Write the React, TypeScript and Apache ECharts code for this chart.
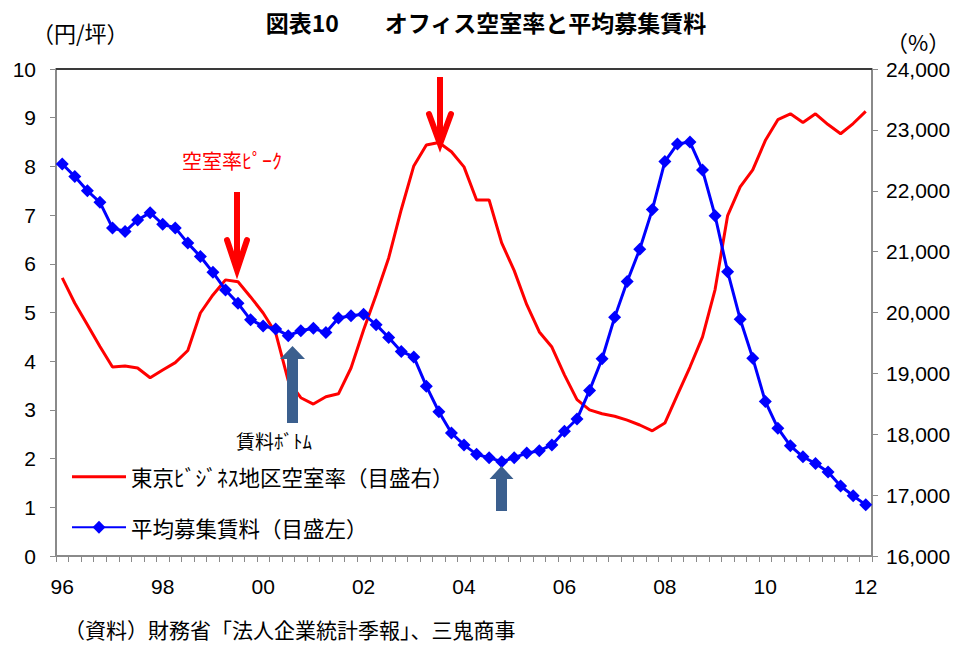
import React, { useEffect, useRef } from "react";
import * as echarts from "echarts";

// ---- data ----
const years = ["96", "97", "98", "99", "00", "01", "02", "03", "04", "05", "06", "07", "08", "09", "10", "11", "12"];
const quarterNames = ["Q1", "Q2", "Q3", "Q4"];
// quarterly categories, 1996Q1 .. 2012Q1
const categories: string[] = years.flatMap((y, i) =>
  i === years.length - 1 ? [`${y}${quarterNames[0]}`] : quarterNames.map((q) => `${y}${q}`)
);

// 東京ビジネス地区空室率 (%), quarterly
const vacancyRate = [
  5.71, 5.19, 4.75, 4.30, 3.88, 3.90, 3.86, 3.66, 3.82, 3.97,
  4.22, 4.99, 5.36, 5.67, 5.63, 5.32, 4.99, 4.58, 3.60, 3.25,
  3.12, 3.27, 3.33, 3.86, 4.64, 5.36, 6.12, 7.11, 8.01, 8.44,
  8.49, 8.30, 7.99, 7.31, 7.31, 6.43, 5.86, 5.16, 4.60, 4.29,
  3.72, 3.21, 3.00, 2.92, 2.87, 2.79, 2.69, 2.57, 2.73, 3.31,
  3.88, 4.50, 5.47, 6.99, 7.58, 7.93, 8.53, 8.96, 9.08, 8.90,
  9.08, 8.86, 8.67, 8.88, 9.13,
];

// 平均募集賃料 (円/坪), quarterly
const avgRent = [
  22440, 22235, 22000, 21810, 21390, 21330, 21520, 21640, 21450, 21390,
  21140, 20920, 20660, 20370, 20150, 19880, 19780, 19730, 19620, 19700,
  19740, 19670, 19910, 19945, 19970, 19800, 19590, 19360, 19270, 18790,
  18370, 18020, 17825, 17670, 17615, 17550, 17615, 17690, 17730, 17825,
  18050, 18250, 18720, 19240, 19920, 20510, 21040, 21690, 22480, 22770,
  22800, 22340, 21590, 20670, 19890, 19250, 18540, 18100, 17810, 17630,
  17520, 17380, 17150, 16990, 16840,
];

const seriesNames = ["東京ﾋﾞｼﾞﾈｽ地区空室率（目盛右）", "平均募集賃料（目盛左）"];
const titleText = "図表10　　オフィス空室率と平均募集賃料";
const leftUnit = "（円/坪）";
const rightUnit = "（%）";
const sourceText = "（資料）財務省「法人企業統計季報」、三鬼商事";
const peakLabel = "空室率ﾋﾟｰｸ";
const bottomLabel = "賃料ﾎﾞﾄﾑ";

const CJK = '"Noto Sans CJK JP", "Noto Sans", sans-serif';
const NUM = '"Liberation Sans Narrow", "Liberation Sans", Arial, sans-serif';
const AXIS_GRAY = "#8a8a8a";
const ARROW_BLUE = "#3b5f8e";

export default function App() {
  const ref = useRef<HTMLDivElement>(null);

  useEffect(() => {
    if (!ref.current) return;
    const chart = echarts.init(ref.current, undefined, { renderer: "svg" });

    const gridLeft = 56;
    const gridTop = 69;
    const gridW = 816;
    const gridH = 487;

    const option: any = {
      animation: false,
      backgroundColor: "#ffffff",
      textStyle: { fontFamily: CJK },
      grid: { left: gridLeft, top: gridTop, width: gridW, height: gridH, containLabel: false },
      legend: {
        orient: "vertical",
        left: 66,
        top: 461,
        itemWidth: 54,
        itemHeight: 16,
        itemGap: 29,
        data: [
          { name: seriesNames[0], icon: "path://M0 0H54V3H0Z" },
          { name: seriesNames[1] },
        ],
        textStyle: { fontFamily: CJK, fontSize: 21.5, color: "#000" },
        selectedMode: false,
      },
      xAxis: {
        type: "category",
        data: categories,
        boundaryGap: true,
        axisLine: { show: true, lineStyle: { color: AXIS_GRAY, width: 2 } },
        axisTick: { show: true, interval: 0, length: 6, inside: false, lineStyle: { color: AXIS_GRAY, width: 1 } },
        axisLabel: {
          interval: 7,
          margin: 20,
          fontFamily: NUM,
          fontSize: 21,
          color: "#000",
          formatter: (v: string) => v.slice(0, 2),
        },
        splitLine: { show: false },
      },
      yAxis: [
        {
          type: "value",
          min: 0,
          max: 10,
          interval: 1,
          position: "left",
          axisLine: { show: true, lineStyle: { color: AXIS_GRAY, width: 2 } },
          axisTick: { show: true, length: 6, lineStyle: { color: AXIS_GRAY, width: 1 } },
          axisLabel: { margin: 20, fontFamily: NUM, fontSize: 21, color: "#000" },
          splitLine: { show: false },
        },
        {
          type: "value",
          min: 16000,
          max: 24000,
          interval: 1000,
          position: "right",
          axisLine: { show: true, lineStyle: { color: AXIS_GRAY, width: 2 } },
          axisTick: { show: true, length: 6, lineStyle: { color: AXIS_GRAY, width: 1 } },
          axisLabel: {
            margin: 14,
            fontFamily: NUM,
            fontSize: 21,
            color: "#000",
            formatter: (v: number) => v.toLocaleString("en-US"),
          },
          splitLine: { show: false },
        },
      ],
      series: [
        {
          name: seriesNames[0],
          type: "line",
          yAxisIndex: 0,
          data: vacancyRate,
          symbol: "none",
          showSymbol: false,
          lineStyle: { color: "#ff0000", width: 3 },
          itemStyle: { color: "#ff0000" },
          z: 2,
        },
        {
          name: seriesNames[1],
          type: "line",
          yAxisIndex: 1,
          data: avgRent,
          symbol: "diamond",
          symbolSize: 13,
          showSymbol: true,
          showAllSymbol: true,
          lineStyle: { color: "#0000ff", width: 3 },
          itemStyle: { color: "#0000ff" },
          z: 3,
        },
      ],
      graphic: [
        // top border of plot area
        {
          type: "line",
          shape: { x1: gridLeft, y1: gridTop, x2: gridLeft + gridW, y2: gridTop },
          style: { stroke: "#3a3a3a", lineWidth: 2 },
          z: 10,
        },
        {
          type: "text",
          x: 486,
          y: 22,
          style: { text: titleText, font: `bold 23px ${CJK}`, fill: "#000", textAlign: "center", textVerticalAlign: "middle" },
        },
        {
          type: "text",
          x: 32,
          y: 32,
          style: { text: leftUnit, font: `22px ${CJK}`, fill: "#000", textVerticalAlign: "middle" },
        },
        {
          type: "text",
          x: 886,
          y: 41,
          style: { text: rightUnit, font: `22px ${CJK}`, fill: "#000", textVerticalAlign: "middle" },
        },
        {
          type: "text",
          x: 64,
          y: 629,
          style: { text: sourceText, font: `21px ${CJK}`, fill: "#000", textVerticalAlign: "middle" },
        },
        // 空室率ピーク label
        {
          type: "text",
          x: 182,
          y: 160,
          style: { text: peakLabel, font: `20px ${CJK}`, fill: "#ff0000", textVerticalAlign: "middle" },
          z: 10,
        },
        // red arrow 1
        {
          type: "line",
          shape: { x1: 237, y1: 192, x2: 237, y2: 266 },
          style: { stroke: "#ff0000", lineWidth: 6 },
          z: 10,
        },
        {
          type: "polyline",
          shape: { points: [[227, 240], [237, 270], [247, 240]] },
          style: { stroke: "#ff0000", lineWidth: 6, fill: null, lineJoin: "miter", lineCap: "round" },
          z: 10,
        },
        // red arrow 2
        {
          type: "line",
          shape: { x1: 440, y1: 77, x2: 440, y2: 140 },
          style: { stroke: "#ff0000", lineWidth: 6 },
          z: 10,
        },
        {
          type: "polyline",
          shape: { points: [[429, 114], [440, 144], [451, 114]] },
          style: { stroke: "#ff0000", lineWidth: 6, fill: null, lineJoin: "miter", lineCap: "round" },
          z: 10,
        },
        // blue-gray arrow 1 (rent bottom)
        {
          type: "polygon",
          shape: {
            points: [[292.5, 346], [305, 359], [298, 359], [298, 423], [287, 423], [287, 359], [280, 359]],
          },
          style: { fill: ARROW_BLUE },
          z: 10,
        },
        {
          type: "text",
          x: 274,
          y: 440,
          style: { text: bottomLabel, font: `19px ${CJK}`, fill: "#000", textAlign: "center", textVerticalAlign: "middle" },
          z: 10,
        },
        // blue-gray arrow 2
        {
          type: "polygon",
          shape: {
            points: [[501.5, 466], [513.5, 479], [507, 479], [507, 511], [496, 511], [496, 479], [489.5, 479]],
          },
          style: { fill: ARROW_BLUE },
          z: 10,
        },
      ],
    };

    chart.setOption(option);
    return () => chart.dispose();
  }, []);

  return (
    <div
      ref={ref}
      style={{ position: "fixed", left: 0, top: 0, width: 972, height: 646, background: "#fff" }}
    />
  );
}
